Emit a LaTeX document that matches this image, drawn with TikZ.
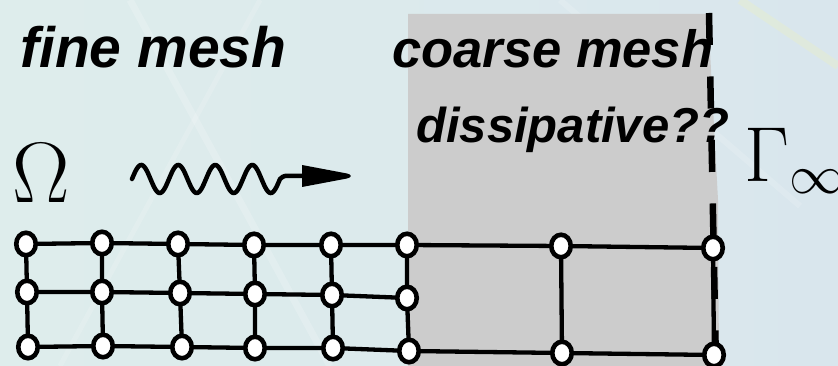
\RequirePackage{fix-cm}
\documentclass[tikz,border=0pt]{standalone}
\usepackage[no-math]{fontspec}
\newfontfamily\labelfont{Liberation Sans}
\usetikzlibrary{shapes.geometric}
\pgfdeclarelayer{back}
\pgfdeclarelayer{wires}
\pgfsetlayers{back,wires,main}
\definecolor{bgleft}{RGB}{222,237,236}
\definecolor{bgright}{RGB}{217,230,237}
\definecolor{coarsegray}{RGB}{204,204,204}
\begin{document}
\begin{tikzpicture}[x=1pt,y=1pt,
  meshnode/.style={ellipse, draw=black, fill=white, line width=4.6pt,
    inner sep=0pt, minimum width=19.5pt, minimum height=22.5pt},
  meshedge/.style={line width=4.3pt, black},
  meshlabel/.style={font=\labelfont\bfseries\itshape, anchor=base west, inner sep=0pt},
  symb/.style={anchor=base west, inner sep=0pt},
  boundary/.style={line width=6.5pt, black, dash pattern=on 32pt off 31.5pt},
]
\useasboundingbox (0,0) rectangle (838,366);

% backdrop and coarse region
\begin{pgfonlayer}{back}
  \shade[left color=bgleft, right color=bgright] (0,0) rectangle (838,366);
  \draw[white, opacity=0.18, line width=7pt] (130,366) -- (330,0);
  \draw[white, opacity=0.15, line width=5pt] (260,366) -- (60,0);
  \draw[white, opacity=0.15, line width=6pt] (560,366) -- (800,160);
  \draw[yellow!40!white, opacity=0.18, line width=8pt] (740,366) -- (838,300);
  \fill[coarsegray] (408,352) -- (708,352) -- (718,166) -- (719,0) -- (408,0) -- cycle;
\end{pgfonlayer}

% labels
\node[meshlabel, font=\labelfont\bfseries\itshape\fontsize{57}{62}\selectfont] (tfine) at (20,298) {fine mesh};
\node[meshlabel, font=\labelfont\bfseries\itshape\fontsize{52.5}{58}\selectfont] (tcoarse) at (392,298) {coarse mesh};
\node[meshlabel, font=\labelfont\bfseries\itshape\fontsize{49}{54}\selectfont] (tdiss) at (416,223) {dissipative??};
\node[symb] (omega) at (12,163) {\fontsize{86}{90}\selectfont$\Omega$};
\node[symb] (gamma) at (744,184) {\fontsize{78}{82}\selectfont$\Gamma_\infty$};

% incoming wave
\coordinate (wavestart) at (132,187);
\coordinate (wavetip) at (352,190);
\draw[line width=4.5pt, line cap=round] plot[domain=0:148, samples=160]
  ({132+\x},{187+14*sin(\x/37*360)})
  .. controls (284,191) and (286,190) .. (290,190) -- (304,190);
\fill[black] (302,201) -- (347,192.5) .. controls (352,191.5) and (352,188.5) .. (347,187.5)
  -- (302,179) -- cycle;

% mesh vertices
\node[meshnode] (f11) at (26,122) {};
\node[meshnode] (f12) at (102,123) {};
\node[meshnode] (f13) at (178,122) {};
\node[meshnode] (f14) at (254,121) {};
\node[meshnode] (f15) at (331,121) {};
\node[meshnode] (f16) at (407,121) {};
\node[meshnode] (f21) at (27,74) {};
\node[meshnode] (f22) at (102,74) {};
\node[meshnode] (f23) at (180,73) {};
\node[meshnode] (f24) at (255,72) {};
\node[meshnode] (f25) at (332,71) {};
\node[meshnode] (f26) at (407,68) {};
\node[meshnode] (f31) at (28,19) {};
\node[meshnode] (f32) at (103,20) {};
\node[meshnode] (f33) at (182,19) {};
\node[meshnode] (f34) at (255,18) {};
\node[meshnode] (f35) at (333,18) {};
\node[meshnode] (f36) at (409,15) {};
\node[meshnode] (c12) at (561,120) {};
\node[meshnode] (c13) at (713,118) {};
\node[meshnode] (c32) at (562,13) {};
\node[meshnode] (c33) at (714,11) {};

% mesh edges and the artificial boundary
\begin{pgfonlayer}{wires}
  \draw[meshedge] (f11.center) -- (f12.center) -- (f13.center) -- (f14.center)
    -- (f15.center) -- (f16.center) -- (c12.center) -- (c13.center);
  \draw[meshedge] (f21.center) -- (f22.center) -- (f23.center) -- (f24.center)
    -- (f25.center) -- (f26.center);
  \draw[meshedge] (f31.center) -- (f32.center) -- (f33.center) -- (f34.center)
    -- (f35.center) -- (f36.center) -- (c32.center) -- (c33.center);
  \foreach \k in {1,...,6} {
    \draw[meshedge] (f1\k.center) -- (f2\k.center) -- (f3\k.center);
  }
  \draw[meshedge] (c12.center) -- (c32.center);
  \draw[meshedge] (c13.center) -- (c33.center);
  \coordinate (btop) at (709,353);
  \coordinate (bbot) at (716,0);
  \draw[boundary] (btop) -- (bbot);
\end{pgfonlayer}
\end{tikzpicture}
\end{document}
